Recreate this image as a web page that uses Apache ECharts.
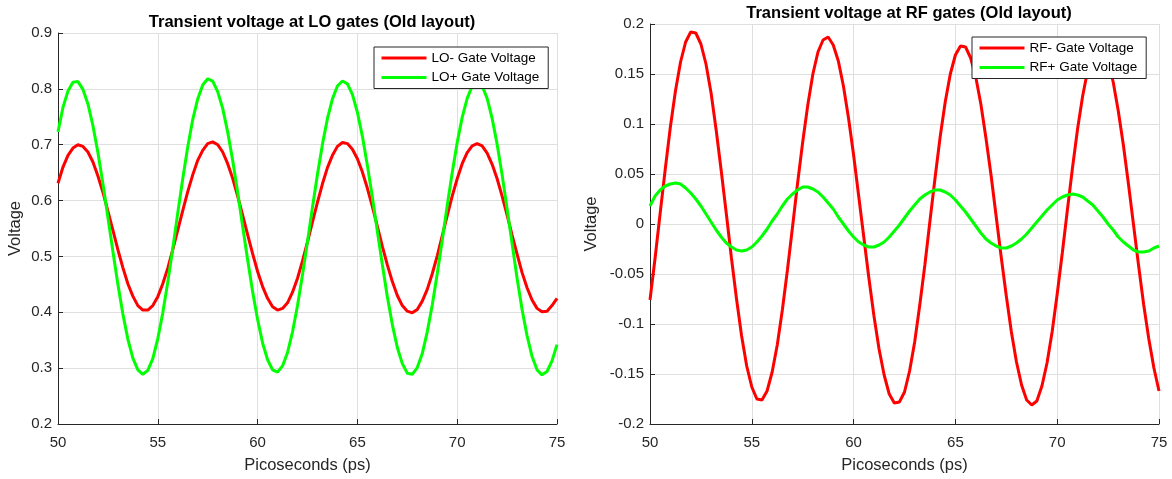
<!DOCTYPE html>
<html>
<head>
<meta charset="utf-8">
<script src="https://cdn.jsdelivr.net/npm/echarts@6/dist/echarts.min.js"></script>
<style>
  html, body { margin: 0; padding: 0; background: #fff; }
  #chart { width: 1172px; height: 479px; }
</style>
</head>
<body>
<div id="chart"></div>
<script>
// Sample times: 50 ps to 75 ps every 0.25 ps
const tStart = 50;
const tStep = 0.25;

// Left panel: LO gate voltages (V)
const loMinus = [
  0.631, 0.660, 0.681, 0.694, 0.700, 0.697, 0.687, 0.669, 0.644, 0.615,
  0.581, 0.547, 0.512, 0.480, 0.451, 0.429, 0.412, 0.404, 0.404, 0.412,
  0.428, 0.451, 0.479, 0.512, 0.547, 0.582, 0.616, 0.646, 0.672, 0.690,
  0.702, 0.705, 0.700, 0.687, 0.666, 0.640, 0.608, 0.574, 0.539, 0.505,
  0.473, 0.446, 0.425, 0.410, 0.404, 0.407, 0.417, 0.436, 0.461, 0.492,
  0.526, 0.562, 0.597, 0.630, 0.659, 0.681, 0.697, 0.704, 0.702, 0.692,
  0.675, 0.651, 0.622, 0.589, 0.554, 0.518, 0.485, 0.455, 0.430, 0.412,
  0.402, 0.399, 0.405, 0.420, 0.441, 0.469, 0.501, 0.537, 0.573, 0.608,
  0.639, 0.666, 0.686, 0.698, 0.702, 0.698, 0.685, 0.665, 0.639, 0.608,
  0.574, 0.538, 0.504, 0.471, 0.444, 0.422, 0.407, 0.401, 0.402, 0.412,
  0.425
];
const loPlus = [
  0.723, 0.767, 0.796, 0.812, 0.813, 0.799, 0.773, 0.734, 0.686, 0.630,
  0.570, 0.509, 0.450, 0.397, 0.352, 0.318, 0.297, 0.289, 0.296, 0.317,
  0.353, 0.399, 0.454, 0.514, 0.578, 0.639, 0.696, 0.745, 0.782, 0.807,
  0.818, 0.814, 0.795, 0.765, 0.723, 0.672, 0.615, 0.554, 0.494, 0.437,
  0.387, 0.345, 0.315, 0.297, 0.293, 0.304, 0.328, 0.365, 0.412, 0.467,
  0.527, 0.588, 0.647, 0.701, 0.747, 0.782, 0.805, 0.814, 0.809, 0.790,
  0.758, 0.715, 0.663, 0.606, 0.545, 0.485, 0.428, 0.378, 0.337, 0.308,
  0.291, 0.289, 0.301, 0.326, 0.365, 0.413, 0.469, 0.529, 0.591, 0.650,
  0.704, 0.749, 0.783, 0.805, 0.812, 0.805, 0.783, 0.747, 0.701, 0.646,
  0.585, 0.523, 0.461, 0.405, 0.358, 0.321, 0.297, 0.288, 0.294, 0.313,
  0.342
];

// Right panel: RF gate voltages (V)
const rfMinus = [
  -0.076, -0.034, 0.011, 0.055, 0.097, 0.133, 0.162, 0.182, 0.192, 0.191,
  0.180, 0.160, 0.131, 0.094, 0.053, 0.010, -0.034, -0.075, -0.112, -0.142,
  -0.163, -0.175, -0.176, -0.167, -0.148, -0.121, -0.086, -0.046, -0.003, 0.041,
  0.082, 0.119, 0.150, 0.172, 0.184, 0.187, 0.179, 0.163, 0.138, 0.106,
  0.069, 0.028, -0.013, -0.054, -0.092, -0.125, -0.151, -0.170, -0.179, -0.178,
  -0.168, -0.147, -0.118, -0.081, -0.041, 0.003, 0.046, 0.087, 0.122, 0.150,
  0.169, 0.178, 0.177, 0.166, 0.147, 0.120, 0.086, 0.049, 0.008, -0.033,
  -0.072, -0.108, -0.138, -0.161, -0.176, -0.181, -0.177, -0.162, -0.139, -0.108,
  -0.070, -0.029, 0.014, 0.056, 0.095, 0.128, 0.154, 0.171, 0.178, 0.175,
  0.163, 0.142, 0.113, 0.079, 0.040, -0.001, -0.042, -0.081, -0.115, -0.144,
  -0.167
];
const rfPlus = [
  0.018, 0.028, 0.034, 0.038, 0.040, 0.041, 0.040, 0.036, 0.031, 0.025,
  0.018, 0.010, 0.002, -0.006, -0.013, -0.019, -0.023, -0.026, -0.027, -0.026,
  -0.023, -0.018, -0.012, -0.005, 0.003, 0.010, 0.018, 0.025, 0.030, 0.034,
  0.037, 0.037, 0.035, 0.032, 0.027, 0.021, 0.015, 0.007, 0.000, -0.007,
  -0.013, -0.018, -0.021, -0.023, -0.023, -0.021, -0.018, -0.013, -0.007, -0.001,
  0.006, 0.013, 0.019, 0.025, 0.029, 0.032, 0.034, 0.034, 0.032, 0.029,
  0.024, 0.018, 0.012, 0.005, -0.002, -0.009, -0.015, -0.019, -0.022, -0.024,
  -0.024, -0.022, -0.019, -0.015, -0.010, -0.004, 0.002, 0.008, 0.014, 0.019,
  0.024, 0.027, 0.029, 0.030, 0.029, 0.027, 0.023, 0.019, 0.013, 0.007,
  0.000, -0.006, -0.013, -0.018, -0.022, -0.026, -0.028, -0.028, -0.027, -0.024,
  -0.022
];

// Tick labels
const xTickLabels = ['50', '55', '60', '65', '70', '75'];
const loTickLabels = ['0.2', '0.3', '0.4', '0.5', '0.6', '0.7', '0.8', '0.9'];
const rfTickLabels = ['-0.2', '-0.15', '-0.1', '-0.05', '0', '0.05', '0.1', '0.15', '0.2'];

const seriesNames = {
  loMinus: 'LO- Gate Voltage',
  loPlus: 'LO+ Gate Voltage',
  rfMinus: 'RF- Gate Voltage',
  rfPlus: 'RF+ Gate Voltage'
};
const titles = [
  'Transient voltage at LO gates (Old layout)',
  'Transient voltage at RF gates (Old layout)'
];

const FONT = '"Liberation Sans", Arial, Helvetica, sans-serif';
const INK = '#262626';
const GRID_LINE = '#dfdfdf';

function pairs(values) {
  return values.map((v, i) => [tStart + i * tStep, v]);
}

function xAxis(gridIndex) {
  return {
    type: 'value', gridIndex, min: 50, max: 75, interval: 5,
    name: 'Picoseconds (ps)', nameLocation: 'middle', nameGap: 33,
    nameTextStyle: { fontFamily: FONT, fontSize: 16.5, color: INK },
    axisLine: { show: true, onZero: false, lineStyle: { color: INK, width: 1 } },
    axisTick: { show: true, inside: true, length: 5, lineStyle: { color: INK } },
    axisLabel: {
      fontFamily: FONT, fontSize: 15, color: INK, margin: 11,
      formatter: (v, i) => xTickLabels[i]
    },
    splitLine: { show: true, lineStyle: { color: GRID_LINE, width: 1 } }
  };
}

function yAxis(gridIndex, min, max, interval, labels, gap) {
  return {
    type: 'value', gridIndex, min, max, interval,
    name: 'Voltage', nameLocation: 'middle', nameGap: gap, nameRotate: 90,
    nameTextStyle: { fontFamily: FONT, fontSize: 16.5, color: INK },
    axisLine: { show: true, onZero: false, lineStyle: { color: INK, width: 1 } },
    axisTick: { show: true, inside: true, length: 5, lineStyle: { color: INK } },
    axisLabel: {
      fontFamily: FONT, fontSize: 15, color: INK, margin: 6,
      formatter: (v, i) => labels[i]
    },
    splitLine: { show: true, lineStyle: { color: GRID_LINE, width: 1 } }
  };
}

function line(name, values, color, axisIndex) {
  return {
    type: 'line', name, data: pairs(values),
    xAxisIndex: axisIndex, yAxisIndex: axisIndex,
    symbol: 'none', showSymbol: false,
    lineStyle: { color, width: 3 }, itemStyle: { color },
    clip: true
  };
}

function legend(names, left, top) {
  return {
    data: names, orient: 'vertical', left, top,
    itemWidth: 45, itemHeight: 14, itemGap: 5.5,
    padding: [4, 9, 4, 6],
    backgroundColor: '#ffffff', borderColor: INK, borderWidth: 1,
    // line-only key: hide the marker dot, keep a 3px stroke
    itemStyle: { opacity: 0 },
    lineStyle: { width: 3 },
    textStyle: { fontFamily: FONT, fontSize: 13.5, color: '#000', padding: [0, 0, 0, 0] },
    selectedMode: false
  };
}

const chart = echarts.init(document.getElementById('chart'), null, { renderer: 'canvas' });
chart.setOption({
  animation: false,
  backgroundColor: '#ffffff',
  title: [
    { text: titles[0], left: 307, top: 9, textAlign: 'center',
      textStyle: { fontFamily: FONT, fontSize: 16.5, fontWeight: 'bold', color: '#000' } },
    { text: titles[1], left: 904, top: 0, textAlign: 'center',
      textStyle: { fontFamily: FONT, fontSize: 16.5, fontWeight: 'bold', color: '#000' } }
  ],
  grid: [
    { left: 58, right: 615, top: 33, bottom: 51, containLabel: false },
    { left: 650, right: 13, top: 24, bottom: 52, containLabel: false }
  ],
  legend: [
    legend([seriesNames.loMinus, seriesNames.loPlus], 374, 47),
    legend([seriesNames.rfMinus, seriesNames.rfPlus], 972, 37)
  ],
  xAxis: [xAxis(0), xAxis(1)],
  yAxis: [
    yAxis(0, 0.2, 0.9, 0.1, loTickLabels, 34),
    yAxis(1, -0.2, 0.2, 0.05, rfTickLabels, 50)
  ],
  series: [
    line(seriesNames.loMinus, loMinus, '#ff0000', 0),
    line(seriesNames.loPlus, loPlus, '#00ff00', 0),
    line(seriesNames.rfMinus, rfMinus, '#ff0000', 1),
    line(seriesNames.rfPlus, rfPlus, '#00ff00', 1)
  ]
});
</script>
</body>
</html>
